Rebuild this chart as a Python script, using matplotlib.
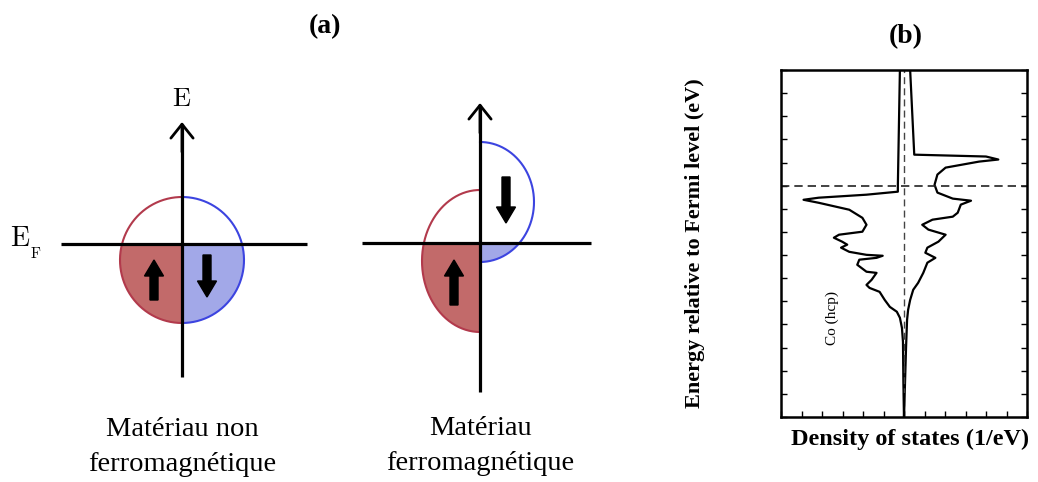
import numpy as np
import matplotlib.pyplot as plt
from matplotlib.patches import Rectangle

plt.rcParams['font.family'] = ['Liberation Serif', 'DejaVu Serif']
plt.rcParams['mathtext.fontset'] = 'cm'

# (a) schematic d bands, energies relative to E_F (arbitrary units)
materials = ['Matériau non\nferromagnétique', 'Matériau\nferromagnétique']
up_centre = [-1.6, -1.8]
up_half_height = [6.3, 7.1]
up_half_width = [6.2, 5.8]
down_centre = [-1.6, 4.1]
down_half_height = [6.3, 6.0]
down_half_width = [6.2, 5.4]

# (b) Co (hcp) density of states
energy_maj = [5.0, 0.0, -0.26, -0.39, -0.52, -0.61, -0.74, -1.04, -1.39, -1.69,
              -1.99, -2.12, -2.25, -2.42, -2.55, -2.68, -2.86, -2.99, -3.03, -3.12,
              -3.20, -3.42, -3.72, -3.77, -4.07, -4.29, -4.42, -4.59, -4.94, -5.24,
              -5.45, -5.71, -6.15, -6.75, -8.5, -10.0]
dos_maj = [0.2, 0.3, 0.3, 1.83, 4.16, 4.9, 4.16, 2.67, 2.03, 1.83,
           2.03, 3.17, 3.42, 3.02, 2.77, 3.07, 2.67, 1.83, 1.04, 1.34,
           2.18, 2.28, 1.83, 1.34, 1.58, 1.83, 1.68, 1.19, 0.94, 0.69,
           0.35, 0.2, 0.1, 0.05, 0.03, 0.0]
energy_min = [5.0, 1.34, 1.26, 1.13, 1.04, 0.78, 0.48, 0.04, -0.30, -0.56,
              -0.65, -0.82, -1.17, -1.34, -1.47, -1.69, -1.90, -2.12, -2.42, -2.68,
              -2.90, -3.12, -3.33, -3.77, -4.20, -4.50, -4.94, -5.37, -5.8, -7.0,
              -8.5, -10.0]
dos_min = [0.3, 0.5, 4.0, 4.6, 3.66, 2.03, 1.63, 1.49, 1.63, 2.38,
           3.27, 2.77, 2.62, 2.38, 1.39, 0.89, 1.19, 2.03, 1.68, 1.14,
           1.04, 1.53, 1.14, 0.94, 0.69, 0.45, 0.30, 0.20, 0.15, 0.1,
           0.05, 0.0]

red_line, red_fill = '#b23a4c', '#c26a6a'
blue_line, blue_fill = '#3c44e0', '#a2a8e8'

W, H = 1038, 482
fig = plt.figure(figsize=(W / 100, H / 100), dpi=100)


def half_band(ax, centre, hh, hw, side, line_col, fill_col):
    t = np.linspace(-np.pi / 2, np.pi / 2, 200)
    x = side * hw * np.cos(t)
    y = centre + hh * np.sin(t)
    poly = ax.fill(np.r_[x, 0], np.r_[y, y[0]], color=fill_col, lw=0)[0]
    poly.set_clip_path(Rectangle((-30, -40), 60, 40, transform=ax.transData))
    ax.plot(x, y, color=line_col, lw=1.5)


# panel (a): two schematic diagrams
boxes = [(42, 244, (-13.3, 12.2), (-12.1, 12.5)),
         (340, 243, (-14.9, 14.0), (-11.8, 11.1))]
for i, (left, y0, vext, hext) in enumerate(boxes):
    ax = fig.add_axes([left / W, (H - 400) / H, 280 / W, 315 / H])
    ax.set_xlim(-14, 14)
    ax.set_ylim(-(400 - y0) / 10, (y0 - 85) / 10)
    ax.axis('off')

    half_band(ax, up_centre[i], up_half_height[i], up_half_width[i], -1, red_line, red_fill)
    half_band(ax, down_centre[i], down_half_height[i], down_half_width[i], 1, blue_line, blue_fill)

    ax.plot(hext, [0, 0], color='black', lw=2.3, solid_capstyle='butt')
    ax.plot([0, 0], [vext[0], vext[1] - 0.2], color='black', lw=2.3, solid_capstyle='butt')
    ax.annotate('', xy=(0, vext[1]), xytext=(0, vext[1] - 3),
                arrowprops=dict(arrowstyle='->,head_length=1.0,head_width=0.8',
                                lw=2.0, color='black', shrinkA=0, shrinkB=0))

    ax.text(0, -20.3, materials[i], ha='center', va='center', fontsize=20.5,
            linespacing=1.5)

    if i == 0:
        ax.arrow(-2.8, -5.6, 0, 4.0, width=0.8, head_width=1.9, head_length=1.6,
                 length_includes_head=True, color='black')
        ax.arrow(2.5, -1.1, 0, -4.2, width=0.8, head_width=1.9, head_length=1.6,
                 length_includes_head=True, color='black')
        ax.text(0, 14.4, r'$\mathrm{E}$', ha='center', va='center', fontsize=19)
        ax.text(-16.2, 0.4, r'$\mathrm{E}$', ha='center', va='center', fontsize=20)
        ax.text(-14.6, -1.0, r'$\mathrm{F}$', ha='center', va='center', fontsize=11)
    else:
        ax.arrow(-2.6, -6.2, 0, 4.5, width=0.8, head_width=1.9, head_length=1.6,
                 length_includes_head=True, color='black')
        ax.arrow(2.6, 6.6, 0, -4.6, width=0.8, head_width=1.9, head_length=1.6,
                 length_includes_head=True, color='black')

fig.text(325 / W, 1 - 27 / H, '(a)', ha='center', va='center', fontsize=20,
         fontweight='bold')
fig.text(906 / W, 1 - 37 / H, '(b)', ha='center', va='center', fontsize=20,
         fontweight='bold')

# panel (b): DOS of hcp Co
axb = fig.add_axes([781 / W, (H - 417) / H, 246 / W, 347 / H])
axb.plot(-np.array(dos_maj), energy_maj, color='black', lw=1.6)
axb.plot(dos_min, energy_min, color='black', lw=1.6)
axb.axhline(0, color='#222222', lw=1.2, ls=(0, (5, 3)))
axb.axvline(0, color='#444444', lw=1.0, ls=(0, (5, 3)))
axb.plot([0, 0], [-10, -9], color='black', lw=1.5)
axb.set_xlim(-6, 6)
axb.set_ylim(-10, 5)
axb.set_xticks(np.arange(-6, 7, 1))
axb.set_yticks(np.arange(-10, 6, 1))
axb.tick_params(direction='in', length=4, width=1, left=True, right=True,
                top=False, bottom=True, labelleft=False, labelbottom=False)
for s in axb.spines.values():
    s.set_linewidth(1.8)
axb.set_ylabel('Energy relative to Fermi level (eV)', fontsize=16, fontweight='bold')
axb.yaxis.set_label_coords(-(781 - 705) / 246, 0.5)
axb.set_xlabel('Density of states (1/eV)', fontsize=17.5, fontweight='bold')
axb.xaxis.set_label_coords(0.5 + 6 / 246, -0.035)
axb.text(-3.5, -5.7, 'Co (hcp)', rotation=90, ha='center', va='center', fontsize=11)

fig.savefig('out.png', dpi=100)
